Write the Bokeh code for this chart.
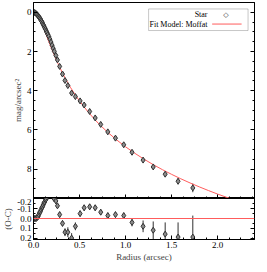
import numpy as np
from bokeh.plotting import figure
from bokeh.layouts import column
from bokeh.models import (Range1d, LinearAxis, Whisker, ColumnDataSource, Span,
                          BoxAnnotation, Label, Arrow, SingleIntervalTicker,
                          NumeralTickFormatter)
from bokeh.embed import file_html
from bokeh.resources import INLINE

# ---- data ----
radius = [0.000, 0.010, 0.020, 0.030, 0.040, 0.050, 0.058, 0.066, 0.074, 0.082,
          0.090, 0.098, 0.106, 0.114, 0.122, 0.130, 0.138, 0.146, 0.156, 0.166,
          0.178, 0.190, 0.202, 0.214, 0.226, 0.243, 0.260, 0.284, 0.315, 0.342,
          0.373, 0.414, 0.455, 0.506, 0.550, 0.610, 0.670, 0.730, 0.807, 0.890,
          0.980, 1.070, 1.190, 1.300, 1.430, 1.570, 1.730]
star_mag = [0.00, 0.01, 0.03, 0.08, 0.12, 0.18, 0.23, 0.28, 0.34, 0.41,
            0.47, 0.55, 0.63, 0.70, 0.79, 0.86, 0.95, 1.03, 1.13, 1.23,
            1.37, 1.52, 1.68, 1.84, 1.99, 2.20, 2.43, 2.76, 3.15, 3.48,
            3.74, 4.12, 4.30, 4.52, 4.73, 5.06, 5.39, 5.72, 6.10, 6.42,
            6.76, 7.14, 7.54, 7.89, 8.26, 8.62, 8.96]
resid = [0.00, 0.00, 0.00, 0.00, -0.01, -0.02, -0.04, -0.06, -0.07, -0.09,
         -0.11, -0.12, -0.14, -0.16, -0.17, -0.19, -0.20, -0.22, -0.24, -0.26,
         -0.27, -0.26, -0.24, -0.22, -0.20, -0.18, -0.13, -0.04, 0.05, 0.14,
         0.14, 0.20, 0.08, -0.05, -0.11, -0.12, -0.11, -0.065, -0.03, -0.04,
         -0.03, 0.04, 0.08, 0.12, 0.16, 0.19, 0.19]
err = [0.01] * 24 + [0.02, 0.02, 0.02, 0.03, 0.03, 0.04, 0.05, 0.05, 0.04, 0.03,
                     0.03, 0.03, 0.03, 0.03, 0.03, 0.03, 0.03, 0.04, 0.06, 0.09,
                     0.12, 0.15, 0.22]
model_r = [0.0, 0.02, 0.04, 0.06, 0.08, 0.10, 0.12, 0.14, 0.16, 0.18, 0.20, 0.22,
           0.25, 0.28, 0.31, 0.35, 0.40, 0.45, 0.50, 0.60, 0.70, 0.80, 0.90, 1.0,
           1.1, 1.2, 1.3, 1.4, 1.5, 1.6, 1.7, 1.8, 1.9, 2.0, 2.1, 2.2]
model_mag = [0.0, 0.034, 0.131, 0.283, 0.476, 0.695, 0.932, 1.175, 1.420, 1.661,
             1.897, 2.125, 2.452, 2.760, 3.049, 3.408, 3.820, 4.189, 4.528, 5.128,
             5.645, 6.098, 6.500, 6.863, 7.192, 7.493, 7.771, 8.029, 8.269, 8.494,
             8.706, 8.906, 9.095, 9.275, 9.445, 9.608]

FONT = "Liberation Serif"
RED = "#ff5c5c"
PT_LINE = "#303030"
PT_FILL = "#8c8c8c"

r = np.array(radius)
m = np.array(star_mag)
d = np.array(resid)
e = np.array(err)
src = ColumnDataSource(dict(r=r, m=m, m_lo=m - e, m_hi=m + e,
                            d=d, d_lo=d - e, d_hi=d + e))

xr = Range1d(0, 2.4)


def style_axis(ax, show_labels=True):
    ax.axis_line_color = "black"
    ax.major_tick_in = 4
    ax.major_tick_out = 0
    ax.minor_tick_in = 2
    ax.minor_tick_out = 0
    ax.major_tick_line_color = "black"
    ax.minor_tick_line_color = "black"
    ax.axis_label_text_font = FONT
    ax.axis_label_text_font_style = "normal"
    ax.axis_label_text_font_size = "9px"
    ax.axis_label_standoff = 1
    ax.major_label_text_font = FONT
    if show_labels:
        ax.major_label_text_font_size = "9px"
        ax.major_label_standoff = 2
        ax.major_label_text_color = "black"
    else:
        # tick marks only: labels are not drawn at all
        ax.major_label_text_color = None
        ax.major_label_standoff = 0


# ---- top panel ----
p1 = figure(width=259, height=198, x_range=xr, y_range=Range1d(9.5, -0.5),
            output_backend="svg", toolbar_location=None,
            min_border_left=30, min_border_right=5, min_border_top=2,
            min_border_bottom=0)
p1.xgrid.visible = False
p1.ygrid.visible = False
p1.outline_line_color = "black"
p1.background_fill_color = "white"
p1.border_fill_color = "white"

p1.xaxis.ticker = SingleIntervalTicker(interval=0.5, num_minor_ticks=4)
style_axis(p1.xaxis[0], show_labels=False)
p1.yaxis.ticker = SingleIntervalTicker(interval=2, num_minor_ticks=4)
style_axis(p1.yaxis[0])
p1.yaxis.axis_label = "mag/arcsec\u00b2"
ry1 = LinearAxis(ticker=SingleIntervalTicker(interval=2, num_minor_ticks=4))
style_axis(ry1, show_labels=False)
p1.add_layout(ry1, "right")

p1.line(model_r, model_mag, line_color=RED, line_width=1)
p1.add_layout(Whisker(source=src, base="r", lower="m_lo", upper="m_hi",
                      dimension="height", line_color=PT_LINE, line_width=1,
                      lower_head=None, upper_head=None))
p1.scatter("r", "m", source=src, marker="diamond", size=6,
           line_color=PT_LINE, fill_color=PT_FILL, line_width=1)

# legend (drawn by hand so the symbols sit right of the labels)
p1.add_layout(BoxAnnotation(left=1.25, right=2.33, top=-0.17, bottom=0.93,
                            fill_color="white", fill_alpha=1.0,
                            line_color="#444444", line_width=1))
p1.add_layout(Label(x=1.89, y=0.13, text="Star", text_align="right",
                    text_baseline="middle", text_font=FONT,
                    text_font_size="8px", text_color="black"))
p1.add_layout(Label(x=1.89, y=0.60, text="Fit Model: Moffat", text_align="right",
                    text_baseline="middle", text_font=FONT,
                    text_font_size="8px", text_color="black"))
p1.add_layout(Label(x=2.09, y=0.14, text="\u25c7", text_align="center",
                    text_baseline="middle", text_font="DejaVu Sans",
                    text_font_size="7px", text_color="#333333"))
p1.add_layout(Arrow(x_start=1.94, y_start=0.60, x_end=2.26, y_end=0.60,
                    end=None, line_color=RED, line_width=1))

# ---- residual panel ----
p2 = figure(width=259, height=66, x_range=xr, y_range=Range1d(0.215, -0.205),
            output_backend="svg", toolbar_location=None,
            min_border_left=30, min_border_right=5, min_border_top=0,
            min_border_bottom=22)
p2.xgrid.visible = False
p2.ygrid.visible = False
p2.outline_line_color = "black"
p2.background_fill_color = "white"
p2.border_fill_color = "white"

p2.xaxis.ticker = SingleIntervalTicker(interval=0.5, num_minor_ticks=4)
p2.xaxis.formatter = NumeralTickFormatter(format="0.0")
style_axis(p2.xaxis[0])
p2.xaxis.axis_label = "Radius (arcsec)"
p2.yaxis.ticker = SingleIntervalTicker(interval=0.1, num_minor_ticks=2)
p2.yaxis.formatter = NumeralTickFormatter(format="0.0")
style_axis(p2.yaxis[0])
p2.yaxis.axis_label = "(O-C)"
ry2 = LinearAxis(ticker=SingleIntervalTicker(interval=0.1, num_minor_ticks=2))
style_axis(ry2, show_labels=False)
p2.add_layout(ry2, "right")

p2.add_layout(Span(location=0, dimension="width", line_color=RED, line_width=1))
p2.add_layout(Whisker(source=src, base="r", lower="d_lo", upper="d_hi",
                      dimension="height", line_color=PT_LINE, line_width=1,
                      lower_head=None, upper_head=None))
p2.scatter("r", "d", source=src, marker="diamond", size=6,
           line_color=PT_LINE, fill_color=PT_FILL, line_width=1)

layout = column(p1, p2, spacing=0)

open("out.html", "w").write(file_html(layout, INLINE))
